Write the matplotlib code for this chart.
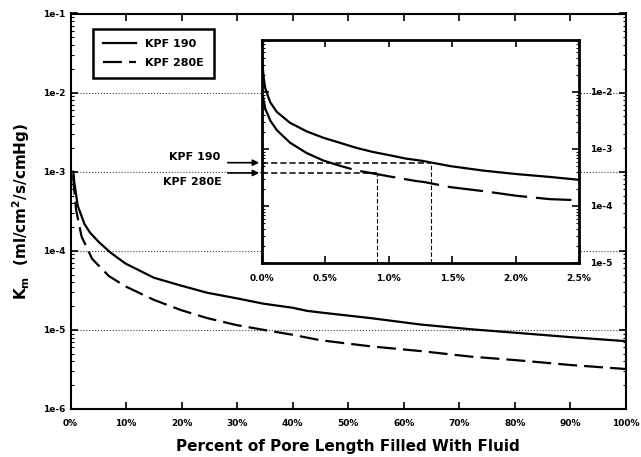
import numpy as np
import matplotlib
matplotlib.use("Agg")
import matplotlib.pyplot as plt
from matplotlib.ticker import FixedLocator, FuncFormatter, LogLocator, NullFormatter

plt.rcParams['font.family'] = ['DejaVu Sans']
plt.rcParams['font.weight'] = 'bold'
plt.rcParams['mathtext.default'] = 'bf'

# main plot: percent of pore length filled vs Km
kpf190_x = [0.5, 0.7, 1.3, 2.5, 3.5, 5.1, 7.2, 9.9, 15, 19.9, 24.6, 29.9, 34.8, 39.9,
            42.6, 45, 54, 63, 72, 81, 90, 100]
kpf190_y = [1.0e-3, 7.24e-4, 3.72e-4, 2.19e-4, 1.70e-4, 1.29e-4, 9.5e-5, 6.9e-5, 4.57e-5,
            3.63e-5, 2.95e-5, 2.51e-5, 2.14e-5, 1.91e-5, 1.74e-5, 1.66e-5, 1.41e-5,
            1.17e-5, 1.02e-5, 9.1e-6, 8.1e-6, 7.2e-6]
kpf280_x = [0.5, 0.6, 1.0, 2.0, 3.9, 6.9, 9.9, 15, 19.9, 24.6, 29.9, 34.8, 39.9, 45,
            54, 63, 72, 81, 90, 100]
kpf280_y = [8.9e-4, 6.6e-4, 3.3e-4, 1.51e-4, 7.9e-5, 4.8e-5, 3.55e-5, 2.4e-5, 1.78e-5,
            1.41e-5, 1.15e-5, 1.0e-5, 8.7e-6, 7.4e-6, 6.2e-6, 5.4e-6, 4.6e-6, 4.1e-6,
            3.6e-6, 3.2e-6]

# inset: first 2.5 %
inset190_x = [0.0, 0.013, 0.026, 0.065, 0.117, 0.221, 0.352, 0.482, 0.612, 0.742, 0.872,
              1.003, 1.133, 1.263, 1.487, 1.748, 2.008, 2.268, 2.5]
inset190_y = [3.98e-2, 1.82e-2, 1.15e-2, 6.6e-3, 4.47e-3, 2.88e-3, 2.04e-3, 1.58e-3,
              1.29e-3, 1.05e-3, 8.9e-4, 7.8e-4, 6.8e-4, 6.2e-4, 5.0e-4, 4.17e-4,
              3.63e-4, 3.24e-4, 2.88e-4]
inset280_x = [0.0, 0.008, 0.026, 0.065, 0.117, 0.221, 0.352, 0.482, 0.612, 0.703, 0.781,
              1.003, 1.211, 1.279, 1.487, 1.748, 2.008, 2.268, 2.5]
inset280_y = [1.41e-2, 8.1e-3, 5.1e-3, 3.16e-3, 2.14e-3, 1.29e-3, 8.5e-4, 6.3e-4, 5.1e-4,
              4.47e-4, 4.07e-4, 3.31e-4, 2.75e-4, 2.63e-4, 2.14e-4, 1.82e-4, 1.51e-4,
              1.32e-4, 1.26e-4]

# marked levels and where each curve crosses them
marker_names = ['KPF 190', 'KPF 280E']
marker_levels = [5.75e-4, 3.8e-4]
marker_cross = [1.33, 0.91]

main_xticks = [0, 10, 20, 30, 40, 50, 60, 70, 80, 90, 100]
main_yticks = [1e-6, 1e-5, 1e-4, 1e-3, 1e-2, 1e-1]
inset_xticks = [0.0, 0.5, 1.0, 1.5, 2.0, 2.5]
inset_yticks = [1e-5, 1e-4, 1e-3, 1e-2]


def exp_label(v, p):
    return f"1e{int(round(np.log10(v)))}"


fig = plt.figure(figsize=(6.41, 4.57), dpi=100)
ax = fig.add_axes([70.5 / 641, 48 / 457, 555.5 / 641, 395.5 / 457])

ax.semilogy(kpf190_x, kpf190_y, color='black', lw=1.6, label='KPF 190')
ax.semilogy(kpf280_x, kpf280_y, color='black', lw=1.6, dashes=(8.5, 3.2), label='KPF 280E')
ax.set_xlim(0, 100)
ax.set_ylim(1e-6, 1e-1)
ax.xaxis.set_major_locator(FixedLocator(main_xticks))
ax.xaxis.set_major_formatter(FuncFormatter(lambda v, p: f"{v:.0f}%"))
ax.yaxis.set_major_locator(FixedLocator(main_yticks))
ax.yaxis.set_major_formatter(FuncFormatter(exp_label))
ax.yaxis.set_minor_locator(LogLocator(base=10, subs=np.arange(2, 10)))
ax.yaxis.set_minor_formatter(NullFormatter())
ax.tick_params(which='both', direction='in', top=True, right=True, labelsize=6.5)
ax.tick_params(which='major', length=5, width=1.2)
ax.tick_params(which='minor', length=2.5, width=0.8)
ax.tick_params(axis='x', pad=7)
ax.yaxis.grid(True, which='major', linestyle=':', color='0.25', lw=0.8)
for s in ax.spines.values():
    s.set_linewidth(1.5)

ax.set_xlabel("Percent of Pore Length Filled With Fluid", fontsize=11, fontweight='bold', labelpad=8)
ax.set_ylabel(r"$K_m$  (ml/cm$^2$/s/cmHg)", fontsize=11, fontweight='bold', labelpad=8)

leg = ax.legend(loc='upper left', bbox_to_anchor=(0.04, 0.96), borderaxespad=0,
                fontsize=8, handlelength=3.0, frameon=True, fancybox=False,
                edgecolor='black', framealpha=1, borderpad=0.9, labelspacing=0.75)
leg.get_frame().set_linewidth(1.8)

# inset
axi = fig.add_axes([262 / 641, 194 / 457, 317 / 641, 223 / 457])
axi.semilogy(inset190_x, inset190_y, color='black', lw=1.6)
axi.semilogy(inset280_x, inset280_y, color='black', lw=1.6,
             dashes=(61, 4, 16, 4, 16, 4, 16, 4, 16, 4, 16, 4, 16, 4))
axi.set_xlim(0, 2.5)
axi.set_ylim(1e-5, 8.17e-2)
axi.xaxis.set_major_locator(FixedLocator(inset_xticks))
axi.xaxis.set_major_formatter(FuncFormatter(lambda v, p: f"{v:.1f}%"))
axi.yaxis.set_major_locator(FixedLocator(inset_yticks))
axi.yaxis.set_major_formatter(FuncFormatter(exp_label))
axi.yaxis.set_minor_locator(LogLocator(base=10, subs=np.arange(2, 10)))
axi.yaxis.set_minor_formatter(NullFormatter())
axi.tick_params(which='both', direction='in', top=True, right=True, labelsize=6.5,
                labelleft=False, labelright=True)
axi.tick_params(axis='y', pad=8)
axi.tick_params(axis='x', pad=8)
axi.tick_params(which='major', length=5, width=1.2)
axi.tick_params(which='minor', length=2.5, width=0.8)
for s in axi.spines.values():
    s.set_linewidth(2)

ybot = axi.get_ylim()[0]
for name, lvl, xc in zip(marker_names, marker_levels, marker_cross):
    axi.plot([0, xc], [lvl, lvl], color='black', lw=1.1, dashes=(4, 2))
    axi.vlines(xc, ybot, lvl, color='black', lw=0.8, linestyles=(0, (4, 2)))

# arrows pointing into the inset, with their labels
text_offsets = [(-42, 6), (-40, -9)]
for name, lvl, off in zip(marker_names, marker_levels, text_offsets):
    axi.annotate('', xy=(0, lvl), xytext=(-37, 0), textcoords='offset pixels',
                 arrowprops=dict(arrowstyle='-|>', color='black', lw=1.2, mutation_scale=9),
                 annotation_clip=False)
    axi.annotate(name, xy=(0, lvl), xytext=off, textcoords='offset pixels',
                 ha='right', va='center', fontsize=8, annotation_clip=False)

fig.savefig("out.png", dpi=100)
